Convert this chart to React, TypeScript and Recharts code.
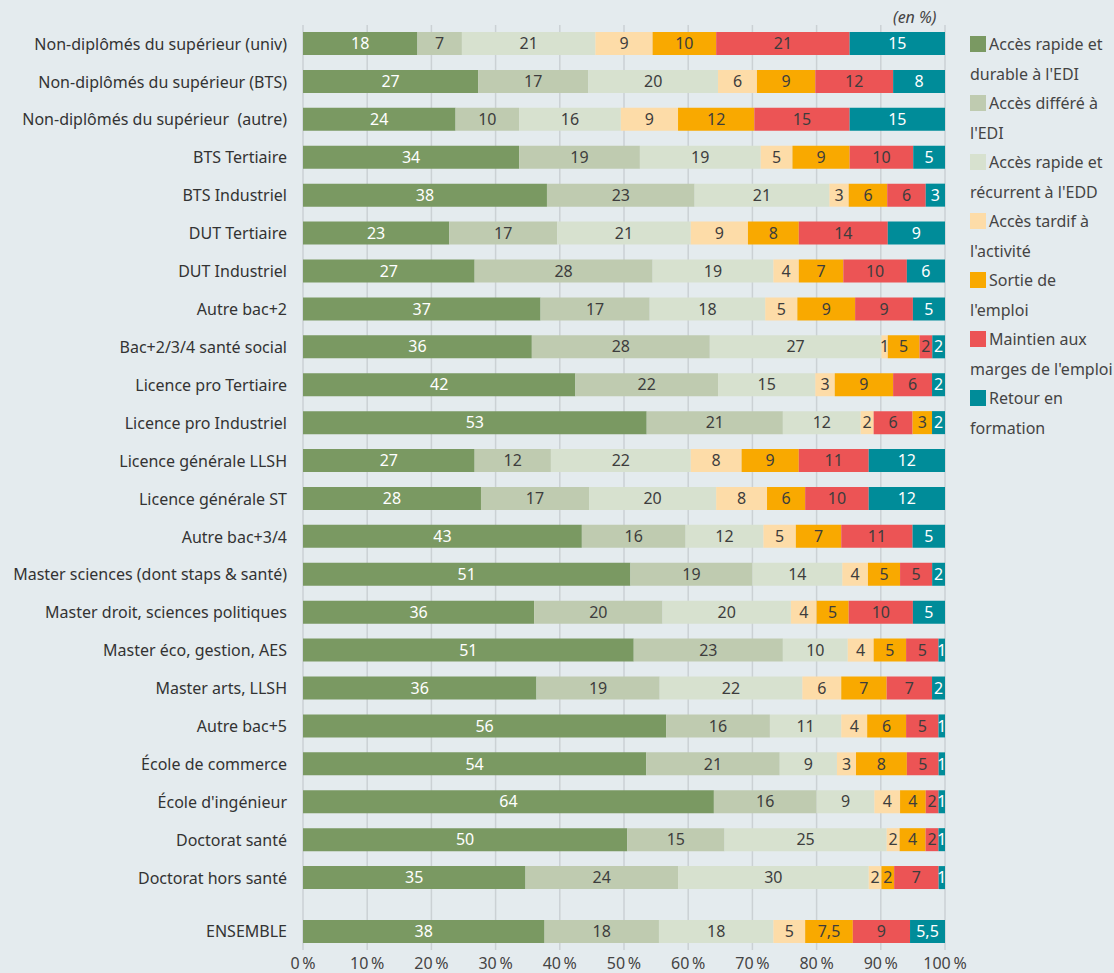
import { Bar, BarChart, CartesianGrid, Cell, LabelList, XAxis, YAxis } from "recharts";

const categories = [
  "Non-diplômés du supérieur (univ)",
  "Non-diplômés du supérieur (BTS)",
  "Non-diplômés du supérieur\u00A0 (autre)",
  "BTS Tertiaire",
  "BTS Industriel",
  "DUT Tertiaire",
  "DUT Industriel",
  "Autre bac+2",
  "Bac+2/3/4 santé social",
  "Licence pro Tertiaire",
  "Licence pro Industriel",
  "Licence générale LLSH",
  "Licence générale ST",
  "Autre bac+3/4",
  "Master sciences (dont staps & santé)",
  "Master droit, sciences politiques",
  "Master éco, gestion, AES",
  "Master arts, LLSH",
  "Autre bac+5",
  "École de commerce",
  "École d'ingénieur",
  "Doctorat santé",
  "Doctorat hors santé",
];

const seriesNames = [
  "Accès rapide et durable à l'EDI",
  "Accès différé à l'EDI",
  "Accès rapide et récurrent à l'EDD",
  "Accès tardif à l'activité",
  "Sortie de l'emploi",
  "Maintien aux marges de l'emploi",
  "Retour en formation",
];

// legend text as wrapped in the source
const legendLabels = [
  "Accès rapide et\ndurable à l'EDI",
  "Accès différé à\nl'EDI",
  "Accès rapide et\nrécurrent à l'EDD",
  "Accès tardif à\nl'activité",
  "Sortie de\nl'emploi",
  "Maintien aux\nmarges de l'emploi",
  "Retour en\nformation",
];

const seriesColors = ["#7a9962", "#bfcbb0", "#d7e1cf", "#fddca8", "#f9a900", "#ec5455", "#008c99"];
const labelColors = ["#ffffff", "#3d3d3d", "#3d3d3d", "#3d3d3d", "#3d3d3d", "#3d3d3d", "#ffffff"];

const accesRapideDurable = [18, 27, 24, 34, 38, 23, 27, 37, 36, 42, 53, 27, 28, 43, 51, 36, 51, 36, 56, 54, 64, 50, 35];
const accesDiffere = [7, 17, 10, 19, 23, 17, 28, 17, 28, 22, 21, 12, 17, 16, 19, 20, 23, 19, 16, 21, 16, 15, 24];
const accesRecurrent = [21, 20, 16, 19, 21, 21, 19, 18, 27, 15, 12, 22, 20, 12, 14, 20, 10, 22, 11, 9, 9, 25, 30];
const accesTardif = [9, 6, 9, 5, 3, 9, 4, 5, 1, 3, 2, 8, 8, 5, 4, 4, 4, 6, 4, 3, 4, 2, 2];
// in the source, "Licence pro Industriel" draws its red segment (6) before the orange one (3)
const sortieEmploi = [10, 9, 12, 9, 6, 8, 7, 9, 5, 9, 6, 9, 6, 7, 5, 5, 5, 7, 6, 8, 4, 4, 2];
const maintienMarges = [21, 12, 15, 10, 6, 14, 10, 9, 2, 6, 3, 11, 10, 11, 5, 10, 5, 7, 5, 5, 2, 2, 7];
const retourFormation = [15, 8, 15, 5, 3, 9, 6, 5, 2, 2, 2, 12, 12, 5, 2, 5, 1, 2, 1, 1, 1, 1, 1];
const swappedRows = ["Licence pro Industriel"];

const ensembleLabel = "ENSEMBLE";
const ensembleValues = [38, 18, 18, 5, 7.5, 9, 5.5];

const xTicks = [0, 0.1, 0.2, 0.3, 0.4, 0.5, 0.6, 0.7, 0.8, 0.9, 1];

const allSeries = [
  accesRapideDurable,
  accesDiffere,
  accesRecurrent,
  accesTardif,
  sortieEmploi,
  maintienMarges,
  retourFormation,
];

const rows = categories.map((cat, i) => {
  const row: any = { cat };
  allSeries.forEach((s, k) => (row["s" + k] = s[i]));
  return row;
});

const ensembleRow: any = { cat: ensembleLabel };
ensembleValues.forEach((v, k) => (ensembleRow["s" + k] = v));

const FONT = "'Noto Sans', Roboto, sans-serif";
const fmt = (v: any) => String(v).replace(".", ",");

function cellColor(cat: string, k: number) {
  if (swappedRows.includes(cat)) {
    if (k === 4) return seriesColors[5];
    if (k === 5) return seriesColors[4];
  }
  return seriesColors[k];
}

function renderBars(data: any[]) {
  return seriesNames.map((name, k) => (
    <Bar
      key={name}
      dataKey={"s" + k}
      name={name}
      stackId="a"
      fill={seriesColors[k]}
      barSize={23}
      isAnimationActive={false}
    >
      {data.map((d) => (
        <Cell key={d.cat} fill={cellColor(d.cat, k)} />
      ))}
      <LabelList
        dataKey={"s" + k}
        position="center"
        formatter={fmt}
        fill={labelColors[k]}
        fontSize={16}
        fontFamily={FONT}
      />
    </Bar>
  ));
}

function ChartLegend() {
  return (
    <div
      style={{
        position: "absolute",
        left: 970,
        top: 30,
        width: 150,
        fontSize: 16,
        lineHeight: "29.5px",
        color: "#444",
        fontFamily: FONT,
        whiteSpace: "pre",
      }}
    >
      {legendLabels.map((label, k) => (
        <div key={label}>
          <span
            style={{
              display: "inline-block",
              width: 16,
              height: 16,
              background: seriesColors[k],
              marginRight: 3,
              verticalAlign: "-2px",
            }}
          />
          {label}
        </div>
      ))}
    </div>
  );
}

export default function App() {
  return (
    <div
      style={{
        position: "absolute",
        left: 0,
        top: 0,
        width: 1114,
        height: 973,
        overflow: "hidden",
        background: "#e4ebee",
        fontFamily: FONT,
      }}
    >
      <div
        style={{
          position: "absolute",
          left: 893,
          top: 6,
          fontSize: 16,
          fontStyle: "italic",
          color: "#444",
        }}
      >
        (en %)
      </div>
      <div style={{ position: "absolute", left: 0, top: 0 }}>
        <BarChart
          width={1000}
          height={912}
          data={rows}
          layout="vertical"
          stackOffset="expand"
          margin={{ top: 25, right: 55, bottom: 0, left: 0 }}
        >
          <CartesianGrid horizontal={false} stroke="#cbd1d4" strokeWidth={1.5} />
          <XAxis type="number" domain={[0, 1]} ticks={xTicks} hide />
          <YAxis
            type="category"
            dataKey="cat"
            width={303}
            tickSize={0}
            tickMargin={16}
            axisLine={false}
            tickLine={false}
            interval={0}
            padding={{ top: 0, bottom: 15 }}
            tick={{ fill: "#333", fontSize: 16 }}
          />
          {renderBars(rows)}
        </BarChart>
      </div>
      <div style={{ position: "absolute", left: 0, top: 912 }}>
        <BarChart
          width={1000}
          height={63}
          data={[ensembleRow]}
          layout="vertical"
          stackOffset="expand"
          margin={{ top: 0, right: 55, bottom: 0, left: 0 }}
        >
          <CartesianGrid horizontal={false} stroke="#cbd1d4" strokeWidth={1.5} />
          <XAxis
            type="number"
            domain={[0, 1]}
            ticks={xTicks}
            height={25}
            tickSize={0}
            tickMargin={8}
            axisLine={false}
            tickLine={false}
            interval={0}
            tickFormatter={(v: number) => `${Math.round(v * 100)}\u202F%`}
            tick={{ fill: "#444", fontSize: 16 }}
          />
          <YAxis
            type="category"
            dataKey="cat"
            width={303}
            tickSize={0}
            tickMargin={16}
            axisLine={false}
            tickLine={false}
            tick={{ fill: "#333", fontSize: 16 }}
          />
          {renderBars([ensembleRow])}
        </BarChart>
      </div>
      <ChartLegend />
    </div>
  );
}
